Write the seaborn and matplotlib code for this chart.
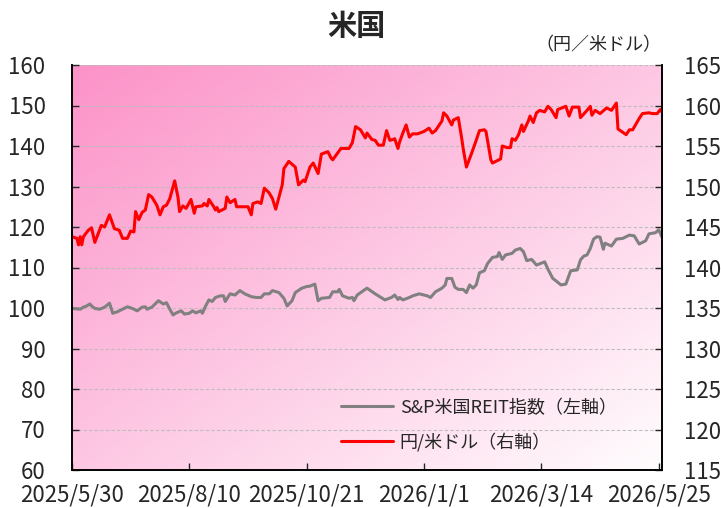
import numpy as np
import pandas as pd
import matplotlib
matplotlib.use("Agg")
import matplotlib.pyplot as plt
import seaborn as sns

# --- data ---
reit_dates = [
    "2025-05-30", "2025-06-04", "2025-06-06", "2025-06-08", "2025-06-10", "2025-06-11",
    "2025-06-13", "2025-06-16", "2025-06-19", "2025-06-22", "2025-06-24", "2025-06-27",
    "2025-07-03", "2025-07-06", "2025-07-09", "2025-07-12", "2025-07-14", "2025-07-15",
    "2025-07-18", "2025-07-22", "2025-07-25", "2025-07-27", "2025-07-29", "2025-07-31",
    "2025-08-02", "2025-08-05", "2025-08-07", "2025-08-10", "2025-08-12", "2025-08-14",
    "2025-08-17", "2025-08-18", "2025-08-20", "2025-08-22", "2025-08-24", "2025-08-26",
    "2025-08-29", "2025-08-31", "2025-09-01", "2025-09-04", "2025-09-07", "2025-09-10",
    "2025-09-13", "2025-09-17", "2025-09-20", "2025-09-23", "2025-09-25", "2025-09-28",
    "2025-09-30", "2025-10-04", "2025-10-07", "2025-10-09", "2025-10-12", "2025-10-14",
    "2025-10-18", "2025-10-21", "2025-10-23", "2025-10-26", "2025-10-28", "2025-10-30",
    "2025-11-04", "2025-11-06", "2025-11-09", "2025-11-10", "2025-11-12", "2025-11-16",
    "2025-11-18", "2025-11-19", "2025-11-21", "2025-11-27", "2025-12-02", "2025-12-08",
    "2025-12-12", "2025-12-14", "2025-12-16", "2025-12-17", "2025-12-19", "2025-12-23",
    "2025-12-25", "2025-12-29", "2026-01-03", "2026-01-05", "2026-01-08", "2026-01-12",
    "2026-01-14", "2026-01-15", "2026-01-18", "2026-01-20", "2026-01-22", "2026-01-25",
    "2026-01-27", "2026-01-29", "2026-01-31", "2026-02-02", "2026-02-04", "2026-02-07",
    "2026-02-09", "2026-02-12", "2026-02-15", "2026-02-16", "2026-02-18", "2026-02-20",
    "2026-02-24", "2026-02-26", "2026-03-01", "2026-03-03", "2026-03-05", "2026-03-08",
    "2026-03-11", "2026-03-16", "2026-03-18", "2026-03-21", "2026-03-23", "2026-03-26",
    "2026-03-29", "2026-04-01", "2026-04-05", "2026-04-07", "2026-04-09", "2026-04-11",
    "2026-04-13", "2026-04-15", "2026-04-17", "2026-04-19", "2026-04-21", "2026-04-22",
    "2026-04-26", "2026-04-29", "2026-05-03", "2026-05-07", "2026-05-10", "2026-05-13",
    "2026-05-17", "2026-05-19", "2026-05-23", "2026-05-25", "2026-05-27",
]
reit_values = [
    99.9, 99.7, 100.2, 100.5, 101.0, 100.5, 99.9, 99.7, 100.2, 101.2, 98.7, 99.1,
    100.3, 99.9, 99.3, 100.2, 100.3, 99.7, 100.2, 101.8, 101.0, 101.3, 99.7, 98.3,
    98.8, 99.3, 98.5, 98.7, 99.3, 98.8, 99.3, 98.7, 100.5, 102.0, 101.6, 102.6,
    103.0, 103.0, 101.6, 103.5, 103.2, 104.3, 103.5, 102.8, 102.6, 102.6, 103.5, 103.5,
    104.3, 103.8, 102.4, 100.5, 101.8, 103.8, 104.9, 105.3, 105.4, 105.9, 101.8, 102.4,
    102.6, 104.0, 104.0, 104.6, 103.0, 102.4, 102.6, 101.8, 103.2, 104.9, 103.5, 102.0,
    102.6, 103.2, 102.1, 102.6, 102.0, 102.6, 103.0, 103.5, 103.0, 102.6, 104.0, 104.9,
    105.7, 107.3, 107.3, 105.1, 104.6, 104.6, 103.8, 105.7, 104.9, 105.7, 108.7, 109.2,
    111.0, 112.5, 112.7, 113.7, 112.0, 113.1, 113.5, 114.3, 114.7, 113.9, 111.7, 112.0,
    110.6, 111.4, 109.6, 107.3, 106.7, 105.7, 105.9, 109.2, 109.4, 111.9, 112.8, 113.1,
    114.7, 117.0, 117.6, 117.5, 114.5, 116.0, 115.3, 117.0, 117.2, 118.0, 117.8, 115.8,
    116.6, 118.3, 118.6, 119.3, 117.5,
]

usdjpy_dates = [
    "2025-05-30", "2025-06-02", "2025-06-03", "2025-06-04", "2025-06-05", "2025-06-06",
    "2025-06-09", "2025-06-11", "2025-06-13", "2025-06-17", "2025-06-19", "2025-06-22",
    "2025-06-25", "2025-06-28", "2025-06-30", "2025-07-03", "2025-07-05", "2025-07-07",
    "2025-07-08", "2025-07-10", "2025-07-12", "2025-07-14", "2025-07-16", "2025-07-18",
    "2025-07-21", "2025-07-23", "2025-07-25", "2025-07-27", "2025-07-29", "2025-08-01",
    "2025-08-03", "2025-08-04", "2025-08-06", "2025-08-08", "2025-08-11", "2025-08-13",
    "2025-08-14", "2025-08-18", "2025-08-19", "2025-08-21", "2025-08-22", "2025-08-25",
    "2025-08-26", "2025-08-27", "2025-08-28", "2025-09-01", "2025-09-02", "2025-09-04",
    "2025-09-07", "2025-09-08", "2025-09-12", "2025-09-15", "2025-09-17", "2025-09-18",
    "2025-09-21", "2025-09-23", "2025-09-25", "2025-09-28", "2025-09-30", "2025-10-02",
    "2025-10-06", "2025-10-07", "2025-10-10", "2025-10-14", "2025-10-16", "2025-10-19",
    "2025-10-20", "2025-10-23", "2025-10-25", "2025-10-28", "2025-10-30", "2025-11-03",
    "2025-11-05", "2025-11-06", "2025-11-11", "2025-11-16", "2025-11-18", "2025-11-20",
    "2025-11-23", "2025-11-26", "2025-11-27", "2025-11-30", "2025-12-02", "2025-12-04",
    "2025-12-07", "2025-12-09", "2025-12-11", "2025-12-13", "2025-12-14", "2025-12-16",
    "2025-12-17", "2025-12-19", "2025-12-21", "2025-12-23", "2025-12-25", "2025-12-28",
    "2026-01-01", "2026-01-04", "2026-01-06", "2026-01-08", "2026-01-12", "2026-01-13",
    "2026-01-15", "2026-01-18", "2026-01-19", "2026-01-22", "2026-01-24", "2026-01-25",
    "2026-01-27", "2026-01-30", "2026-02-02", "2026-02-04", "2026-02-07", "2026-02-08",
    "2026-02-11", "2026-02-12", "2026-02-17", "2026-02-18", "2026-02-21", "2026-02-23",
    "2026-02-24", "2026-02-26", "2026-02-28", "2026-03-02", "2026-03-03", "2026-03-06",
    "2026-03-07", "2026-03-09", "2026-03-11", "2026-03-13", "2026-03-16", "2026-03-18",
    "2026-03-20", "2026-03-23", "2026-03-24", "2026-03-29", "2026-03-31", "2026-04-02",
    "2026-04-06", "2026-04-07", "2026-04-11", "2026-04-13", "2026-04-14", "2026-04-16",
    "2026-04-19", "2026-04-23", "2026-04-26", "2026-04-29", "2026-04-30", "2026-05-05",
    "2026-05-07", "2026-05-09", "2026-05-13", "2026-05-15", "2026-05-19", "2026-05-21",
    "2026-05-24", "2026-05-26", "2026-05-27",
]
usdjpy_values = [
    143.8, 143.6, 142.8, 143.8, 142.8, 143.8, 144.6, 144.9, 143.1, 145.2, 145.0, 146.5,
    144.8, 144.6, 143.6, 143.6, 144.5, 144.4, 146.9, 145.9, 146.8, 147.1, 149.0, 148.7,
    147.7, 146.5, 147.5, 147.7, 148.5, 150.7, 148.7, 146.9, 147.6, 147.3, 148.4, 146.7,
    147.5, 147.6, 147.9, 147.6, 148.4, 147.5, 147.1, 147.4, 146.9, 147.3, 148.7, 148.0,
    148.4, 147.5, 147.5, 147.5, 146.5, 147.9, 148.1, 147.9, 149.8, 149.2, 148.5, 147.2,
    150.2, 152.2, 153.1, 152.4, 150.2, 150.8, 150.6, 152.4, 152.9, 151.6, 154.0, 154.3,
    153.5, 153.3, 154.7, 154.7, 155.4, 157.4, 157.0, 156.0, 156.6, 155.8, 155.7, 155.1,
    155.1, 156.9, 155.7, 155.8, 155.9, 154.7, 155.5, 156.6, 157.6, 156.1, 156.5, 156.5,
    156.8, 157.2, 156.6, 156.9, 158.1, 159.1, 158.7, 157.6, 158.2, 158.5, 156.1, 154.7,
    152.4, 154.0, 155.7, 156.9, 157.0, 156.8, 153.3, 152.9, 153.4, 155.0, 154.8, 154.8,
    155.9, 155.7, 156.4, 157.6, 156.8, 158.1, 158.7, 157.9, 159.1, 159.4, 159.2, 159.9,
    159.5, 158.5, 159.5, 159.9, 158.7, 159.8, 159.8, 158.5, 159.4, 159.9, 158.8, 159.4,
    159.0, 159.7, 159.4, 160.3, 157.1, 156.4, 157.0, 157.0, 158.4, 159.0, 159.1, 159.0,
    159.0, 159.5, 159.2,
]

tick_dates = ["2025-05-30", "2025-08-10", "2025-10-21", "2026-01-01", "2026-03-14", "2026-05-25"]
tick_labels = ["2025/5/30", "2025/8/10", "2025/10/21", "2026/1/1", "2026/3/14", "2026/5/25"]
left_ticks = list(range(60, 161, 10))
right_ticks = list(range(115, 166, 5))

reit_label = "S&P米国REIT指数（左軸）"
fx_label = "円/米ドル（右軸）"

reit = pd.DataFrame({"date": pd.to_datetime(reit_dates), "value": reit_values})
fx = pd.DataFrame({"date": pd.to_datetime(usdjpy_dates), "value": usdjpy_values})

sns.set_style("white")
plt.rcParams["font.family"] = ["Liberation Sans Narrow", "Noto Sans CJK JP", "DejaVu Sans"]
cjk = ["Noto Sans CJK JP", "DejaVu Sans"]

fig = plt.figure(figsize=(7.21, 5.08), dpi=100)
rect = [72 / 721, 38 / 508, 590 / 721, 405 / 508]

# diagonal pink -> white background
bg = fig.add_axes(rect, zorder=0)
u, v = np.meshgrid(np.linspace(0, 1, 300), np.linspace(0, 1, 300))
t = (u + v) / 2
c0 = np.array([252, 146, 200]) / 255
c1 = np.array([255, 253, 254]) / 255
grad = c0[None, None, :] * (1 - t[..., None]) + c1[None, None, :] * t[..., None]
bg.imshow(grad, extent=[0, 1, 0, 1], aspect="auto", origin="upper")
bg.axis("off")

ax = fig.add_axes(rect, zorder=1)
ax.patch.set_visible(False)
ax2 = ax.twinx()

sns.lineplot(data=reit, x="date", y="value", ax=ax, color="#808080", linewidth=2.2)
sns.lineplot(data=fx, x="date", y="value", ax=ax2, color="#ff0000", linewidth=2.2)

ax.set_xlim(pd.Timestamp("2025-05-30"), pd.Timestamp("2026-05-27"))
ax.set_ylim(60, 160)
ax2.set_ylim(115, 165)
ax.set_yticks(left_ticks)
ax2.set_yticks(right_ticks)
ax.set_xticks(pd.to_datetime(tick_dates))
ax.set_xticklabels(tick_labels)
for a in (ax, ax2):
    a.set_xlabel("")
    a.set_ylabel("")
    a.grid(False)

for y in left_ticks[1:]:
    ax.axhline(y, color="#bdbdbd", linewidth=0.8, linestyle=(0, (3, 2)), zorder=0.5)

for a in (ax, ax2):
    a.spines["top"].set_visible(False)
    for s in ("left", "right", "bottom"):
        a.spines[s].set_color("black")
        a.spines[s].set_linewidth(1.2)

ax.tick_params(axis="y", direction="in", length=5, width=1, pad=19, labelsize=16, left=True)
ax.tick_params(axis="x", direction="in", length=5, width=1, pad=10, labelsize=16, bottom=True)
ax2.tick_params(axis="y", direction="in", length=5, width=1, pad=16, labelsize=16, right=True)

handles = [
    plt.Line2D([], [], color="#808080", linewidth=2.2),
    plt.Line2D([], [], color="#ff0000", linewidth=2.2),
]
ax2.legend(handles, [reit_label, fx_label], loc="upper left", bbox_to_anchor=(0.456, 0.176),
           frameon=False, prop={"family": cjk, "size": 13}, handlelength=2.9,
           handletextpad=0.35, labelspacing=0.85, borderpad=0, borderaxespad=0)

fig.text(0.494, 0.949, "米国", ha="center", va="center", fontsize=21, fontweight="bold", family=cjk)
fig.text(0.83, 0.911, "（円／米ドル）", ha="center", va="center", fontsize=13, family=cjk)

fig.savefig("out.png", dpi=100)
